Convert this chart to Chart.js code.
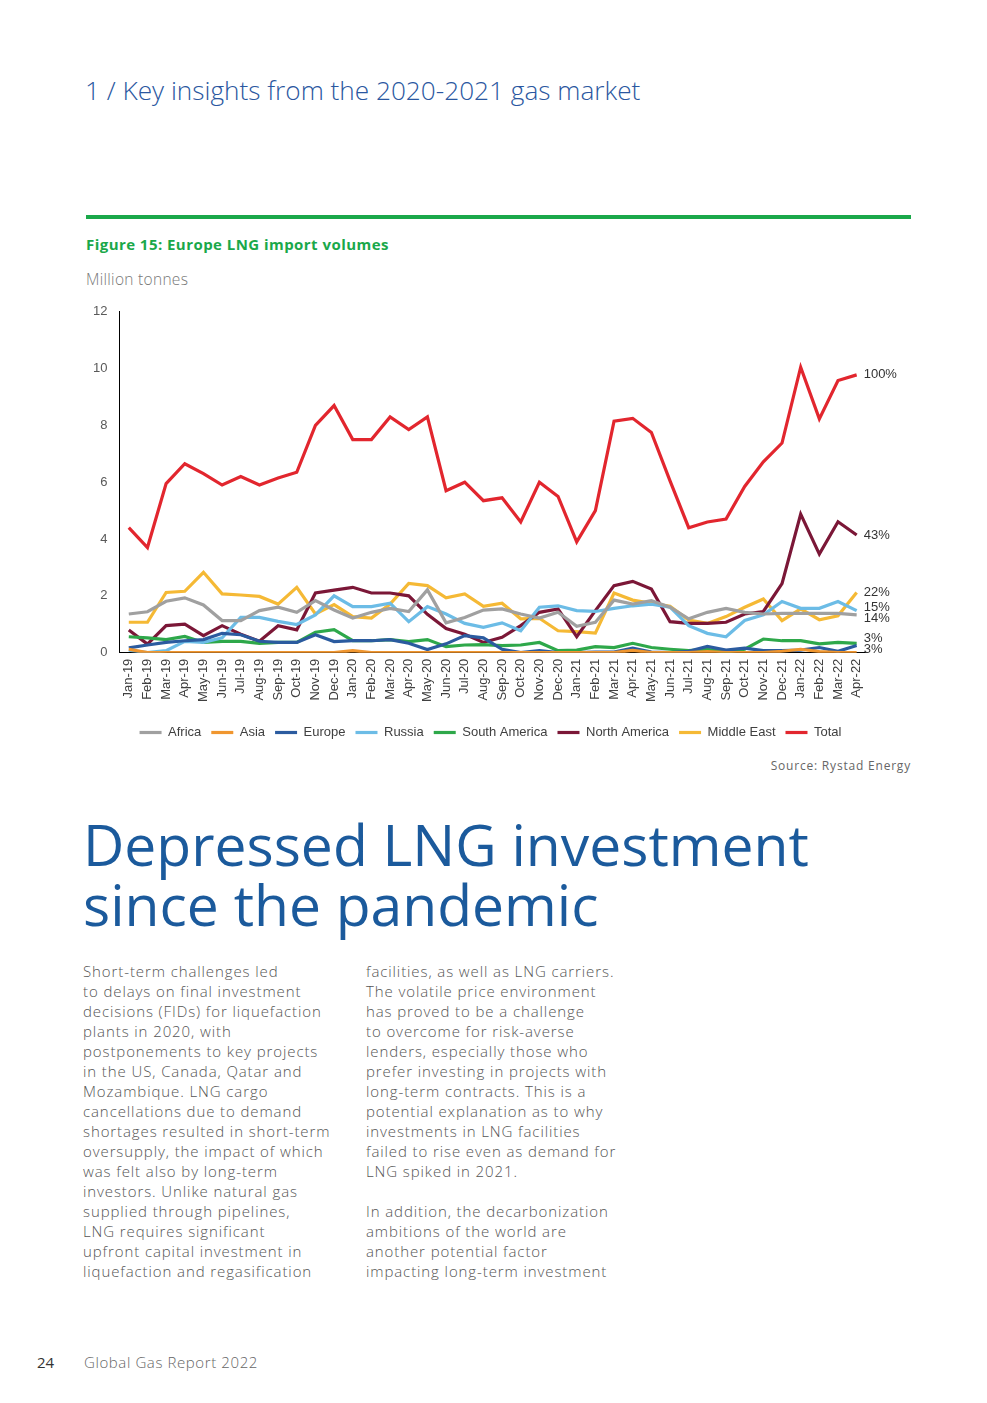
<!DOCTYPE html>
<html>
<head>
<meta charset="utf-8">
<script src="https://cdn.jsdelivr.net/npm/chart.js@4.4.1/dist/chart.umd.min.js"></script>
<style>
	body { margin: 0; background: #fff; font-family: "Open Sans", "Noto Sans", sans-serif; }
	.page { position: relative; width: 987px; height: 1403px; overflow: hidden; }
	.abs { position: absolute; }
	#section { left: 85px; top: 72px; font-size: 26.2px; color: #2a57a0; font-weight: 300; letter-spacing: 0; }
	#rule { left: 86px; top: 215px; width: 825px; height: 4px; background: #1aa84a; }
	#figTitle { left: 86px; top: 234px; font-size: 15px; font-weight: 700; color: #1aa84a; letter-spacing: 0.45px; }
	#unit { left: 86px; top: 268px; font-size: 15.5px; color: #777; font-weight: 300; letter-spacing: 0.3px; }
	#chartBox { left: 80px; top: 292px; width: 832px; height: 457px; }
	#source { right: 76px; top: 757px; font-size: 12px; color: #666; letter-spacing: 0.8px; }
	#heading { left: 83px; top: 814px; font-size: 57px; line-height: 60px; color: #1b5a9c; font-weight: 400; letter-spacing: 0; }
	.col { top: 961px; width: 280px; font-size: 15px; line-height: 20px; color: #555; font-weight: 300; letter-spacing: 0.9px; }
	#col1 { left: 83px; }
	#col2 { left: 366px; }
	#pageNo { left: 37px; top: 1352px; font-size: 15px; color: #333; }
	#footer { left: 84px; top: 1352px; font-size: 15px; color: #666; font-weight: 300; letter-spacing: 0.6px; }
</style>
</head>
<body>
<div class="page">
	<div id="section" class="abs">1 / Key insights from the 2020-2021 gas market</div>
	<div id="rule" class="abs"></div>
	<div id="figTitle" class="abs">Figure 15: Europe LNG import volumes</div>
	<div id="unit" class="abs">Million tonnes</div>
	<div id="chartBox" class="abs"><canvas id="lngChart"></canvas></div>
	<div id="source" class="abs">Source: Rystad Energy</div>
	<div id="heading" class="abs">Depressed LNG investment<br>since the pandemic</div>
	<div id="col1" class="abs col">Short-term challenges led<br>to delays on final investment<br>decisions (FIDs) for liquefaction<br>plants in 2020, with<br>postponements to key projects<br>in the US, Canada, Qatar and<br>Mozambique. LNG cargo<br>cancellations due to demand<br>shortages resulted in short-term<br>oversupply, the impact of which<br>was felt also by long-term<br>investors. Unlike natural gas<br>supplied through pipelines,<br>LNG requires significant<br>upfront capital investment in<br>liquefaction and regasification</div>
	<div id="col2" class="abs col">facilities, as well as LNG carriers.<br>The volatile price environment<br>has proved to be a challenge<br>to overcome for risk-averse<br>lenders, especially those who<br>prefer investing in projects with<br>long-term contracts. This is a<br>potential explanation as to why<br>investments in LNG facilities<br>failed to rise even as demand for<br>LNG spiked in 2021.<br><br>In addition, the decarbonization<br>ambitions of the world are<br>another potential factor<br>impacting long-term investment</div>
	<div id="pageNo" class="abs">24</div>
	<div id="footer" class="abs">Global Gas Report 2022</div>
</div>

<script>
const months = ["Jan-19", "Feb-19", "Mar-19", "Apr-19", "May-19", "Jun-19", "Jul-19", "Aug-19", "Sep-19", "Oct-19", "Nov-19", "Dec-19",
	"Jan-20", "Feb-20", "Mar-20", "Apr-20", "May-20", "Jun-20", "Jul-20", "Aug-20", "Sep-20", "Oct-20", "Nov-20", "Dec-20",
	"Jan-21", "Feb-21", "Mar-21", "Apr-21", "May-21", "Jun-21", "Jul-21", "Aug-21", "Sep-21", "Oct-21", "Nov-21", "Dec-21",
	"Jan-22", "Feb-22", "Mar-22", "Apr-22"];

const africa = [1.36, 1.44, 1.81, 1.93, 1.68, 1.13, 1.13, 1.48, 1.6, 1.42, 1.83, 1.5,
	1.22, 1.42, 1.56, 1.45, 2.21, 1.05, 1.24, 1.5, 1.54, 1.36, 1.22, 1.42,
	0.93, 1.07, 1.85, 1.71, 1.83, 1.6, 1.19, 1.42, 1.56, 1.42, 1.36, 1.38,
	1.38, 1.38, 1.38, 1.33];
const asia = [0.12, 0, 0, 0, 0, 0, 0, 0, 0, 0, 0, 0,
	0.07, 0, 0, 0, 0, 0, 0, 0, 0, 0, 0, 0,
	0, 0, 0, 0.08, 0, 0, 0, 0.04, 0, 0, 0, 0.05,
	0.12, 0.04, 0, 0];
const europe = [0.17, 0.27, 0.36, 0.42, 0.46, 0.68, 0.63, 0.4, 0.36, 0.36, 0.63, 0.39,
	0.42, 0.42, 0.46, 0.33, 0.11, 0.31, 0.6, 0.52, 0.12, 0, 0.07, 0,
	0, 0.02, 0.02, 0.16, 0.02, 0, 0.05, 0.22, 0.09, 0.16, 0.07, 0.07,
	0.09, 0.18, 0.05, 0.25];
const russia = [0.09, 0, 0.07, 0.4, 0.36, 0.52, 1.24, 1.24, 1.1, 0.99, 1.33, 2.0,
	1.62, 1.62, 1.74, 1.09, 1.62, 1.36, 1.03, 0.89, 1.05, 0.77, 1.6, 1.65,
	1.48, 1.45, 1.56, 1.65, 1.71, 1.6, 0.95, 0.68, 0.56, 1.13, 1.33, 1.8,
	1.56, 1.56, 1.8, 1.48];
const southAmerica = [0.56, 0.52, 0.46, 0.57, 0.36, 0.4, 0.4, 0.33, 0.36, 0.36, 0.72, 0.81,
	0.42, 0.42, 0.46, 0.39, 0.46, 0.21, 0.27, 0.28, 0.25, 0.27, 0.36, 0.07,
	0.09, 0.21, 0.18, 0.33, 0.18, 0.12, 0.07, 0.12, 0.02, 0.12, 0.48, 0.42,
	0.42, 0.31, 0.36, 0.33];
const northAmerica = [0.8, 0.3, 0.95, 1.0, 0.6, 0.95, 0.65, 0.4, 0.95, 0.8, 2.1, 2.2,
	2.3, 2.1, 2.1, 2.0, 1.35, 0.85, 0.65, 0.36, 0.54, 0.95, 1.42, 1.54,
	0.56, 1.48, 2.36, 2.51, 2.24, 1.09, 1.03, 1.03, 1.07, 1.36, 1.45, 2.43,
	4.88, 3.47, 4.61, 4.14];
const middleEast = [1.07, 1.07, 2.12, 2.16, 2.83, 2.07, 2.03, 1.98, 1.71, 2.3, 1.36, 1.69,
	1.27, 1.22, 1.71, 2.44, 2.36, 1.93, 2.07, 1.63, 1.74, 1.19, 1.21, 0.77,
	0.74, 0.69, 2.1, 1.85, 1.74, 1.63, 1.15, 1.03, 1.27, 1.6, 1.89, 1.13,
	1.54, 1.16, 1.3, 2.12];
const total = [4.4, 3.7, 5.95, 6.65, 6.3, 5.9, 6.2, 5.9, 6.15, 6.35, 8.0, 8.7,
	7.5, 7.5, 8.3, 7.85, 8.3, 5.7, 6.0, 5.35, 5.45, 4.6, 6.0, 5.5,
	3.9, 5.0, 8.15, 8.25, 7.75, 6.05, 4.4, 4.6, 4.7, 5.85, 6.72, 7.38,
	10.05, 8.23, 9.58, 9.78];

const seriesNames = ["Africa", "Asia", "Europe", "Russia", "South America", "North America", "Middle East", "Total"];
const seriesColors = ["#a0a0a0", "#f0962f", "#2b5b9f", "#6cbce6", "#2ea84a", "#7b1737", "#f5b935", "#e2262e"];
// share of the April 2022 total, as printed next to the last points
const endLabels = ["14%", "", "3%", "15%", "3%", "43%", "22%", "100%"];

const seriesData = [africa, asia, europe, russia, southAmerica, northAmerica, middleEast, total];

const chartFont = "'Liberation Sans', Arial, sans-serif";

const endLabelPlugin = {
	id: "endLabels",
	afterDatasetsDraw(chart) {
		const c = chart.ctx;
		const items = [];
		chart.data.datasets.forEach((ds, i) => {
			if (!endLabels[i]) return;
			const meta = chart.getDatasetMeta(i);
			const pt = meta.data[meta.data.length - 1];
			items.push({ text: endLabels[i], x: pt.x, y: pt.y });
		});
		// spread labels that would overlap
		const gap = 11;
		for (let k = 0; k < 30; k++) {
			items.sort((a, b) => a.y - b.y);
			for (let j = 1; j < items.length; j++) {
				const d = items[j].y - items[j - 1].y;
				if (d < gap) {
					const shift = (gap - d) / 2;
					items[j].y += shift;
					items[j - 1].y -= shift;
				}
			}
		}
		c.save();
		c.font = "13px " + chartFont;
		c.fillStyle = "#333";
		c.textBaseline = "middle";
		c.textAlign = "left";
		items.forEach(it => c.fillText(it.text, it.x + 7, it.y));
		c.restore();
	}
};

// legend sits a little right of the plot centre in the original
const legendShift = {
	id: "legendShift",
	afterLayout(chart) {
		if (!chart.legend) return;
		chart.legend.left += 17;
		chart.legend.right += 17;
	}
};

const ctx = document.getElementById("lngChart");
new Chart(ctx, {
	type: "line",
	data: {
		labels: months,
		datasets: seriesNames.map((name, i) => ({
			label: name,
			data: seriesData[i],
			borderColor: seriesColors[i],
			backgroundColor: seriesColors[i],
			borderWidth: 3.2,
			pointRadius: 0,
			tension: 0,
			pointStyle: "line"
		}))
	},
	options: {
		responsive: true,
		maintainAspectRatio: false,
		animation: false,
		layout: { padding: { left: 1, right: 46, top: 4, bottom: 0 } },
		plugins: {
			tooltip: { enabled: false },
			legend: {
				position: "bottom",
				labels: {
					usePointStyle: true,
					pointStyleWidth: 22,
					padding: 10,
					color: "#404040",
					font: { family: chartFont, size: 13 }
				}
			}
		},
		scales: {
			y: {
				min: 0,
				max: 12,
				ticks: { stepSize: 2, padding: 12, color: "#595959", font: { family: chartFont, size: 13 } },
				grid: { display: false, drawTicks: false },
				border: { display: true, color: "#000", width: 1 }
			},
			x: {
				offset: true,
				afterFit(scale) { scale.height += 8; },
				ticks: {
					autoSkip: false, minRotation: 90, maxRotation: 90, padding: 6,
					color: "#404040", font: { family: chartFont, size: 13 }
				},
				grid: { display: false, drawTicks: false },
				border: { display: true, color: "#000", width: 1 }
			}
		}
	},
	plugins: [endLabelPlugin, legendShift]
});
</script>
</body>
</html>
